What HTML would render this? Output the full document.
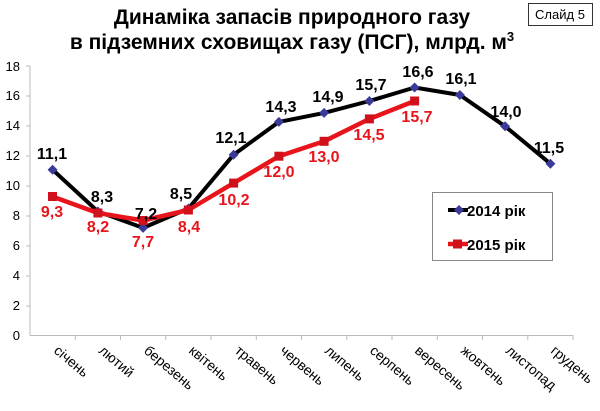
<!DOCTYPE html>
<html><head><meta charset="utf-8"><style>body{margin:0;background:#fff}svg{display:block}</style></head><body>
<svg width="600" height="411" xmlns="http://www.w3.org/2000/svg" font-family="Liberation Sans, Arial, sans-serif">
<text x="292" y="24" font-size="21" font-weight="bold" text-anchor="middle">Динаміка запасів природного газу</text>
<text x="292" y="49" font-size="21" font-weight="bold" text-anchor="middle">в підземних сховищах газу (ПСГ), млрд. м<tspan dy="-8" font-size="13">3</tspan></text>
<rect x="528.5" y="3.5" width="64" height="22" fill="#fff" stroke="#333"/>
<text x="560" y="19" font-size="13" text-anchor="middle">Слайд 5</text>
<g stroke="#bbb" stroke-width="1">
<line x1="30" y1="66" x2="30" y2="335.5"/><line x1="30" y1="335.5" x2="573" y2="335.5"/>
<line x1="26" y1="66" x2="30" y2="66"/><line x1="26" y1="96" x2="30" y2="96"/><line x1="26" y1="126" x2="30" y2="126"/><line x1="26" y1="156" x2="30" y2="156"/><line x1="26" y1="186" x2="30" y2="186"/><line x1="26" y1="216" x2="30" y2="216"/><line x1="26" y1="246" x2="30" y2="246"/><line x1="26" y1="276" x2="30" y2="276"/><line x1="26" y1="306" x2="30" y2="306"/>
<line x1="75.3" y1="335" x2="75.3" y2="340"/><line x1="120.5" y1="335" x2="120.5" y2="340"/><line x1="165.8" y1="335" x2="165.8" y2="340"/><line x1="211" y1="335" x2="211" y2="340"/><line x1="256.3" y1="335" x2="256.3" y2="340"/><line x1="301.5" y1="335" x2="301.5" y2="340"/><line x1="346.8" y1="335" x2="346.8" y2="340"/><line x1="392" y1="335" x2="392" y2="340"/><line x1="437.3" y1="335" x2="437.3" y2="340"/><line x1="482.5" y1="335" x2="482.5" y2="340"/><line x1="527.8" y1="335" x2="527.8" y2="340"/><line x1="573" y1="335" x2="573" y2="340"/>
</g>
<g font-size="13" text-anchor="end">
<text x="20" y="340">0</text><text x="20" y="310">2</text><text x="20" y="280">4</text><text x="20" y="250">6</text><text x="20" y="220">8</text><text x="20" y="190">10</text><text x="20" y="160">12</text><text x="20" y="130">14</text><text x="20" y="100">16</text><text x="20" y="71">18</text>
</g>
<g font-size="14">
<text transform="translate(53,352) rotate(40)">січень</text>
<text transform="translate(98,352) rotate(40)">лютий</text>
<text transform="translate(143,352) rotate(40)">березень</text>
<text transform="translate(188,352) rotate(40)">квітень</text>
<text transform="translate(234,352) rotate(40)">травень</text>
<text transform="translate(279,352) rotate(40)">червень</text>
<text transform="translate(324,352) rotate(40)">липень</text>
<text transform="translate(369,352) rotate(40)">серпень</text>
<text transform="translate(414,352) rotate(40)">вересень</text>
<text transform="translate(460,352) rotate(40)">жовтень</text>
<text transform="translate(505,352) rotate(40)">листопад</text>
<text transform="translate(550,352) rotate(40)">грудень</text>
</g>
<polyline fill="none" stroke="#000" stroke-width="4" stroke-linejoin="round" points="52.6,169.7 97.9,211.5 143.1,227.9 188.4,208.5 233.6,154.7 278.9,121.9 324.1,112.9 369.4,101 414.6,87.5 459.9,95 505.1,126.3 550.4,163.7"/>
<polyline fill="none" stroke="#e8141c" stroke-width="4.5" stroke-linejoin="round" points="52.6,196.6 97.9,213 143.1,220.5 188.4,210 233.6,183.1 278.9,156.2 324.1,141.3 369.4,118.9 414.6,101"/>
<g fill="#3a3a9a">
<path d="M52.6,164.7l5,5l-5,5l-5,-5z"/><path d="M97.9,206.5l5,5l-5,5l-5,-5z"/><path d="M143.1,222.9l5,5l-5,5l-5,-5z"/><path d="M188.4,203.5l5,5l-5,5l-5,-5z"/><path d="M233.6,149.7l5,5l-5,5l-5,-5z"/><path d="M278.9,116.9l5,5l-5,5l-5,-5z"/><path d="M324.1,107.9l5,5l-5,5l-5,-5z"/><path d="M369.4,96l5,5l-5,5l-5,-5z"/><path d="M414.6,82.5l5,5l-5,5l-5,-5z"/><path d="M459.9,90l5,5l-5,5l-5,-5z"/><path d="M505.1,121.3l5,5l-5,5l-5,-5z"/><path d="M550.4,158.7l5,5l-5,5l-5,-5z"/>
</g>
<g fill="#d0101a">
<rect x="48" y="192" width="9" height="9"/><rect x="93.4" y="208.5" width="9" height="9"/><rect x="138.6" y="216" width="9" height="9"/><rect x="183.9" y="205.5" width="9" height="9"/><rect x="229.1" y="178.6" width="9" height="9"/><rect x="274.4" y="151.7" width="9" height="9"/><rect x="319.6" y="136.8" width="9" height="9"/><rect x="364.9" y="114.4" width="9" height="9"/><rect x="410.1" y="96.5" width="9" height="9"/>
</g>
<g font-size="16" font-weight="bold" text-anchor="middle">
<text x="52" y="159">11,1</text><text x="102" y="202">8,3</text><text x="146" y="219">7,2</text><text x="181" y="199">8,5</text><text x="231" y="143">12,1</text><text x="281" y="112">14,3</text><text x="328" y="102">14,9</text><text x="371" y="90">15,7</text><text x="418" y="77">16,6</text><text x="461" y="84">16,1</text><text x="506" y="117">14,0</text><text x="549" y="153">11,5</text>
</g>
<g font-size="16" font-weight="bold" text-anchor="middle" fill="#e8141c">
<text x="52" y="217">9,3</text><text x="98" y="232">8,2</text><text x="143" y="247">7,7</text><text x="189" y="232">8,4</text><text x="234" y="205">10,2</text><text x="279" y="177">12,0</text><text x="324" y="162">13,0</text><text x="369" y="140">14,5</text><text x="417" y="122">15,7</text>
</g>
<rect x="432.5" y="192.5" width="120" height="68" fill="#fff" stroke="#888"/>
<line x1="448" y1="210" x2="468" y2="210" stroke="#000" stroke-width="4"/>
<path d="M459,205l5,5l-5,5l-5,-5z" fill="#3a3a9a"/>
<text x="467" y="216" font-size="15" font-weight="bold">2014 рік</text>
<line x1="448" y1="244" x2="468" y2="244" stroke="#e8141c" stroke-width="4.5"/>
<rect x="453" y="239.5" width="9" height="9" fill="#d0101a"/>
<text x="467" y="250" font-size="15" font-weight="bold">2015 рік</text>
</svg>
</body></html>
